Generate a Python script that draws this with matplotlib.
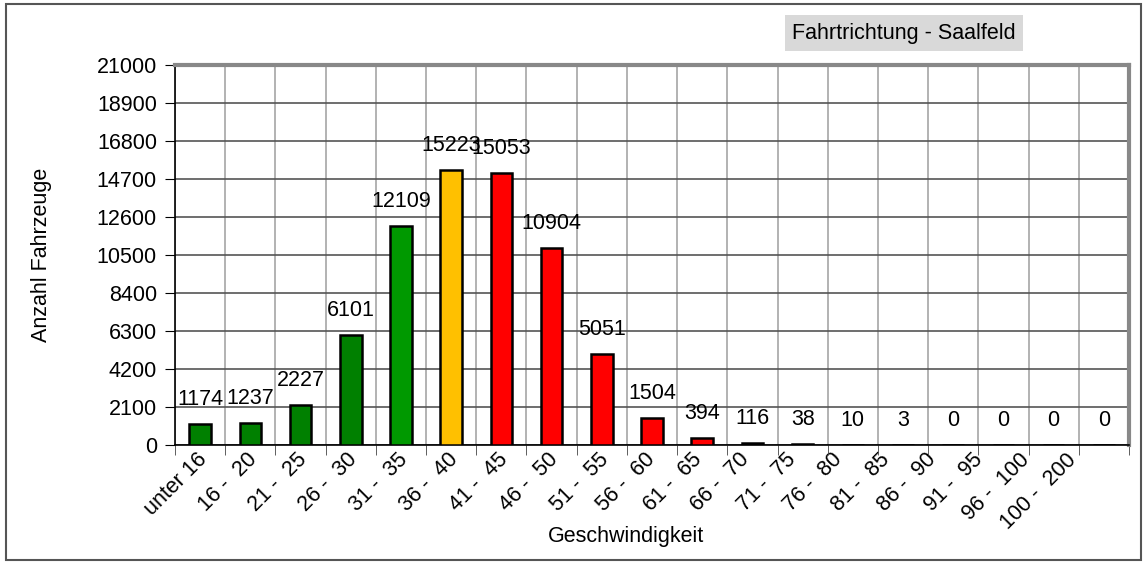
import matplotlib.pyplot as plt
import matplotlib.transforms as mtransforms
import numpy as np
from matplotlib.patches import Rectangle

plt.rcParams['font.family'] = ['Liberation Sans', 'DejaVu Sans']

# Klassen und Werte
klassen = ["unter 16", "16 -  20", "21 -  25", "26 -  30", "31 -  35", "36 -  40",
           "41 -  45", "46 -  50", "51 -  55", "56 -  60", "61 -  65", "66 -  70",
           "71 -  75", "76 -  80", "81 -  85", "86 -  90", "91 -  95", "96 -  100",
           "100 -  200"]
anzahl = [1174, 1237, 2227, 6101, 12109, 15223, 15053, 10904, 5051, 1504,
          394, 116, 38, 10, 3, 0, 0, 0, 0]
farben = ["#008000"] * 4 + ["#009900", "#FFC000"] + ["#FF0000"] * 13
y_ticks = list(range(0, 21001, 2100))

fs = 15.5

fig = plt.figure(figsize=(11.46, 5.64), dpi=100)
ax = fig.add_axes([175 / 1146, 119 / 564, 954 / 1146, 380 / 564])

x = np.arange(len(klassen))
ax.bar(x, anzahl, width=0.43, color=farben, edgecolor="black", linewidth=1.8, zorder=3)

for xi, v in zip(x, anzahl):
    ax.annotate(str(v), (xi, v), xytext=(0, 10), textcoords="offset points",
                ha="center", va="bottom", fontsize=fs, zorder=4)

ax.set_xlim(-0.5, len(klassen) - 0.5)
ax.set_ylim(0, 21000)
ax.set_yticks(y_ticks)
ax.set_xticks(x)
ax.set_xticklabels(klassen, rotation=45, ha="right", va="top", rotation_mode="anchor",
                   fontsize=fs)
ax.set_xticks(np.arange(-0.5, len(klassen)), minor=True)
ax.tick_params(axis="x", which="major", length=0, pad=3)
ax.tick_params(axis="x", which="minor", length=7, color="#444444")
ax.tick_params(axis="y", length=7, labelsize=fs, pad=6)
# Excel rueckt die hinteren Beschriftungen etwas nach links
for i, lbl in enumerate(ax.get_xticklabels()):
    dx = -4 - max(0, i - 8) * 3.4
    lbl.set_transform(lbl.get_transform() + mtransforms.ScaledTranslation(dx / 100, 0, fig.dpi_scale_trans))

ax.grid(axis="y", which="major", color="#555555", linewidth=1.2, zorder=0)
ax.grid(axis="x", which="minor", color="#A6A6A6", linewidth=1.2, zorder=0)
ax.set_axisbelow(True)

ax.spines["top"].set_color("#888888")
ax.spines["top"].set_linewidth(3)
ax.spines["right"].set_color("#888888")
ax.spines["right"].set_linewidth(3)
ax.spines["left"].set_linewidth(1.2)
ax.spines["bottom"].set_linewidth(1.2)

ax.set_ylabel("Anzahl Fahrzeuge", fontsize=fs)
ax.yaxis.set_label_coords(-0.129, 0.5)
ax.set_xlabel("Geschwindigkeit", fontsize=fs)
ax.xaxis.set_label_coords(451 / 954, -0.212)

fig.text(904 / 1146, 1 - 33 / 564, "Fahrtrichtung - Saalfeld", ha="center", va="center",
         fontsize=fs, bbox=dict(boxstyle="square,pad=0.35", facecolor="#D9D9D9", edgecolor="none"))

fig.patches.append(Rectangle((6 / 1146, 4 / 564), 1135 / 1146, 556 / 564, transform=fig.transFigure,
                             fill=False, edgecolor="#555555", linewidth=1.5))

fig.savefig("out.png", dpi=100)
